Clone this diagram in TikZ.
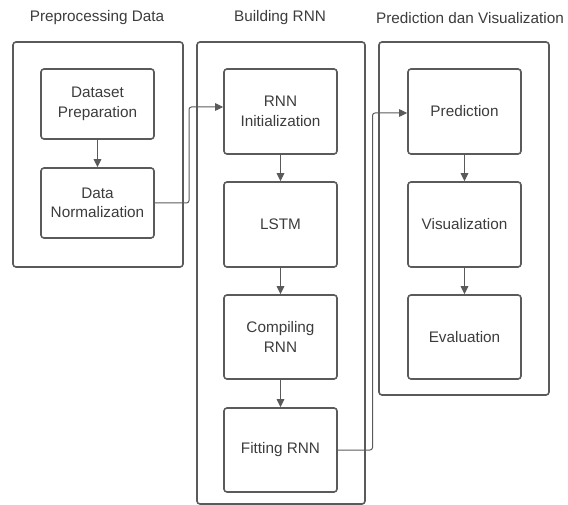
\documentclass[tikz,border=0pt]{standalone}
\usepackage{fontspec}
\setmainfont{Liberation Sans}
\usetikzlibrary{arrows.meta}
\definecolor{strk}{HTML}{5A5A5A}
\definecolor{txt}{HTML}{3C3C3C}
\begin{document}
\begin{tikzpicture}[x=1pt,y=-1pt,
  grp/.style={draw=strk,line width=1.6pt,rounded corners=3pt},
  stepbox/.style={draw=strk,line width=1.6pt,rounded corners=3pt,minimum width=113pt,align=center,text=txt,font=\fontsize{15.3}{19.5}\selectfont,inner sep=0pt},
  ttl/.style={text=txt,font=\fontsize{15.3}{18}\selectfont,inner sep=0pt},
  arr/.style={draw=strk,line width=1.1pt,-{Triangle[length=8pt,width=7.5pt]}},
  con/.style={draw=strk,line width=1pt,rounded corners=2.5pt,-{Triangle[length=8pt,width=7.5pt]}}]
\useasboundingbox (0,0) rectangle (568,505);
% titles
\node[ttl] (t1) at (97,18) {Preprocessing Data};
\node[ttl] (t2) at (280,18) {Building RNN};
\node[ttl] (t3) at (470,18) {Prediction dan Visualization};
% groups
\draw[grp] (13,42) rectangle (183,267);
\draw[grp] (197,42) rectangle (365,504);
\draw[grp] (379,42) rectangle (549,395);
% boxes
\node[stepbox,minimum height=70pt] (dp) at (97.5,104) {Dataset\\Preparation};
\node[stepbox,minimum height=70pt] (dn) at (97.5,203) {Data\\Normalization};
\node[stepbox,minimum height=85pt] (ri) at (280.5,111.5) {RNN\\Initialization};
\node[stepbox,minimum height=85pt] (ls) at (280.5,224.5) {LSTM};
\node[stepbox,minimum height=84pt] (cr) at (280.5,337) {Compiling\\RNN};
\node[stepbox,minimum height=84pt] (fr) at (280.5,450) {Fitting RNN};
\node[stepbox,minimum height=85pt] (pr) at (464.5,111.5) {Prediction};
\node[stepbox,minimum height=85pt] (vi) at (464.5,224.5) {Visualization};
\node[stepbox,minimum height=84pt] (ev) at (464.5,337) {Evaluation};
% arrows
\draw[arr] (dp) -- (dn);
\draw[arr] (ri) -- (ls);
\draw[arr] (ls) -- (cr);
\draw[arr] (cr) -- (fr);
\draw[arr] (pr) -- (vi);
\draw[arr] (vi) -- (ev);
\coordinate (k1) at (189,107);
\coordinate (k2) at (372.5,113);
\draw[con] (dn.east) -| (k1) -- (k1 -| ri.west);
\draw[con] (fr.east) -| (k2) -- (k2 -| pr.west);
\end{tikzpicture}
\end{document}
